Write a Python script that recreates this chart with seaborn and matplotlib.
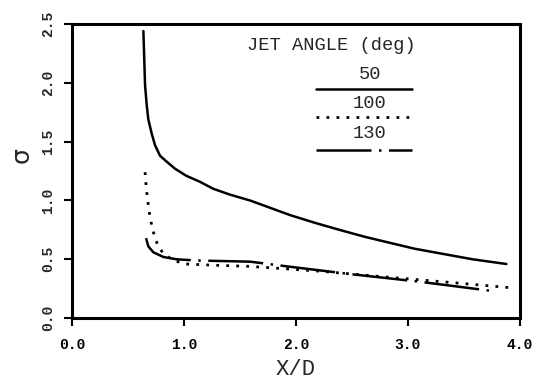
import matplotlib
matplotlib.use("Agg")
import matplotlib.pyplot as plt
import matplotlib.transforms as mtransforms
import seaborn as sns
import pandas as pd

# ---- data ----
x50 = [0.637, 0.643, 0.652, 0.667, 0.681, 0.711, 0.741, 0.786, 0.845, 0.92, 1.02, 1.14,
       1.26, 1.41, 1.59, 1.72, 1.95, 2.17, 2.39, 2.62, 2.84, 3.06, 3.29, 3.58, 3.88]
y50 = [2.44, 2.26, 1.98, 1.81, 1.69, 1.57, 1.47, 1.38, 1.33, 1.27, 1.21, 1.16,
       1.10, 1.05, 1.00, 0.955, 0.875, 0.81, 0.75, 0.69, 0.64, 0.59, 0.55, 0.50, 0.46]

x100 = [0.652, 0.661, 0.673, 0.69, 0.711, 0.741, 0.771, 0.815, 0.905, 1.02, 1.26, 1.59,
        2.2, 2.8, 3.3, 3.9]
y100 = [1.24, 1.13, 1.02, 0.90, 0.79, 0.68, 0.61, 0.55, 0.49, 0.46, 0.45, 0.44,
        0.40, 0.35, 0.31, 0.26]

x130 = [0.661, 0.681, 0.726, 0.815, 0.935, 1.11, 1.59, 1.92, 2.48, 3.1, 3.76]
y130 = [0.68, 0.61, 0.56, 0.52, 0.50, 0.49, 0.48, 0.44, 0.375, 0.31, 0.23]

angles = ["50", "100", "130"]
xticks = [0.0, 1.0, 2.0, 3.0, 4.0]
yticks = [0.0, 0.5, 1.0, 1.5, 2.0, 2.5]

sns.set_style("ticks")
plt.rcParams['font.family'] = ['DejaVu Sans']

fig = plt.figure(figsize=(5.46, 3.81), dpi=100)
ax = fig.add_axes([0.132, 0.165, 0.82, 0.772])

styles = ["-", (0, (1, 2.6)), (0, (22, 3, 1, 3))]
widths = [1.8, 2.0, 1.8]
for xs, ys, ls, lw in zip([x50, x100, x130], [y50, y100, y130], styles, widths):
    df = pd.DataFrame({"x": xs, "y": ys})
    sns.lineplot(data=df, x="x", y="y", ax=ax, color="black", lw=lw,
                 linestyle=ls, sort=False, estimator=None)

ax.set_xlim(0, 4.0)
ax.set_ylim(0, 2.5)
ax.set_xticks(xticks)
ax.set_xticklabels([f"{v:.1f}" for v in xticks], family="Liberation Mono",
                   fontsize=10.5, fontweight="bold")
ax.set_yticks(yticks)
ax.tick_params(direction="out", length=6, width=1.5, colors="black")
ax.tick_params(axis="x", pad=8)
ax.tick_params(axis="y", labelleft=False)

# rotated y tick labels, placed at the tick values
ytrans = mtransforms.blended_transform_factory(ax.transAxes, ax.transData)
for v in yticks:
    ax.text(-0.053, v, f"{v:.1f}", transform=ytrans, rotation=90,
            ha="center", va="center", family="Liberation Mono",
            fontsize=10.5, fontweight="bold", clip_on=False)

for s in ax.spines.values():
    s.set_linewidth(2.2)
    s.set_color("black")
    s.set_visible(True)

ax.set_xlabel("X/D", fontsize=16, family="Liberation Mono", labelpad=5)
ax.set_ylabel("σ", fontsize=18)
ax.yaxis.set_label_coords(-0.085, 0.555)

# legend drawn like the original (title, labels over line samples)
ax.text(0.58, 0.928, "JET ANGLE (deg)", transform=ax.transAxes, family="Liberation Mono",
        fontsize=13.5, ha="center", va="center")
ypos = [0.83, 0.73, 0.628]
lpos = [0.778, 0.683, 0.573]
for lab, ls, lw, yy, ly in zip(angles, styles, widths, ypos, lpos):
    ax.text(0.665, yy, lab, transform=ax.transAxes, family="Liberation Mono",
            fontsize=13.5, ha="center", va="center")
    ax.plot([0.545, 0.76], [ly, ly], transform=ax.transAxes,
            color="black", lw=lw, linestyle=ls)

fig.savefig("out.png", dpi=100)
